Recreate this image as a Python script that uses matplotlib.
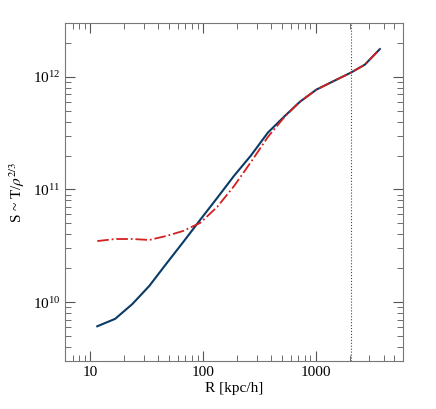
import numpy as np
import matplotlib.pyplot as plt

plt.rcParams['font.family'] = ['Liberation Serif', 'DejaVu Serif']
plt.rcParams['mathtext.fontset'] = 'stix'

r = [11.6, 16.7, 23.7, 33.5, 47.3, 67, 94.6, 134, 189, 267, 378, 535, 726, 1018, 1525, 2060, 2728, 3710]
s_blue = [6.1e9, 7.1e9, 9.6e9, 1.39e10, 2.18e10, 3.41e10, 5.36e10, 8.4e10, 1.32e11, 2.0e11,
          3.2e11, 4.5e11, 6.0e11, 7.7e11, 9.4e11, 1.09e12, 1.28e12, 1.76e12]
s_red = [3.48e10, 3.63e10, 3.63e10, 3.56e10, 3.86e10, 4.28e10, 5.04e10, 6.99e10, 1.07e11, 1.75e11,
         2.93e11, 4.45e11, 6.0e11, 7.7e11, 9.4e11, 1.09e12, 1.28e12, 1.76e12]
r_vir = 2060

fig = plt.figure(figsize=(4.36, 4.09), dpi=100)
ax = fig.add_axes([65/436, 1-361/409, 338/436, 338/409])
ax.plot(r, s_blue, color='#0a3a66', lw=1.5)
ax.plot(r, s_red, color='#d42020', lw=1.3, ls='-.')
ax.axvline(r_vir, color='#444444', lw=0.8, ls=':')
ax.set_xscale('log')
ax.set_yscale('log')
ax.set_xlim(6.0, 5950)
ax.set_ylim(3.0e9, 3.0e12)
ax.set_xticks([10, 100, 1000])
ax.set_xticklabels(['10', '100', '1000'])
ax.tick_params(which='both', direction='in', top=True, right=True, labelsize=11, color='#555555')
ax.tick_params(which='major', length=7)
ax.tick_params(which='minor', length=4)
for sp in ax.spines.values():
    sp.set_color('#777777')
ax.set_xlabel('R [kpc/h]', fontsize=11, labelpad=2)
ax.set_ylabel(r'S ~ T/$\rho^{2/3}$', fontsize=11)
fig.savefig('out.png', dpi=100)
